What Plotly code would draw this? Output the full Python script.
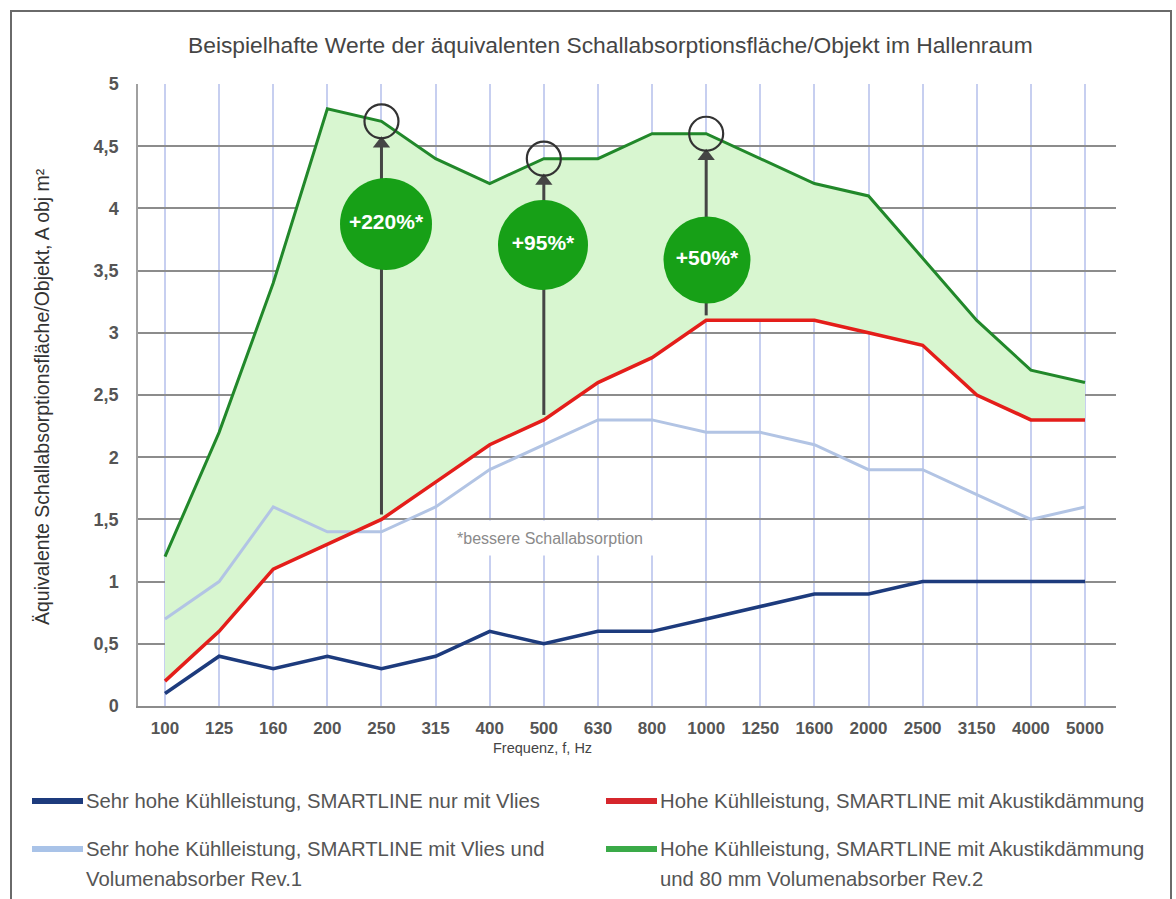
import plotly.graph_objects as go

# ---------------- data ----------------
frequencies = ["100", "125", "160", "200", "250", "315", "400", "500", "630",
               "800", "1000", "1250", "1600", "2000", "2500", "3150", "4000", "5000"]
vlies_only = [0.1, 0.4, 0.3, 0.4, 0.3, 0.4, 0.6, 0.5, 0.6, 0.6, 0.7, 0.8, 0.9, 0.9, 1.0, 1.0, 1.0, 1.0]
vlies_rev1 = [0.7, 1.0, 1.6, 1.4, 1.4, 1.6, 1.9, 2.1, 2.3, 2.3, 2.2, 2.2, 2.1, 1.9, 1.9, 1.7, 1.5, 1.6]
akustik = [0.2, 0.6, 1.1, 1.3, 1.5, 1.8, 2.1, 2.3, 2.6, 2.8, 3.1, 3.1, 3.1, 3.0, 2.9, 2.5, 2.3, 2.3]
akustik_rev2 = [1.2, 2.2, 3.4, 4.8, 4.7, 4.4, 4.2, 4.4, 4.4, 4.6, 4.6, 4.4, 4.2, 4.1, 3.6, 3.1, 2.7, 2.6]

highlight_freqs = ["250", "500", "1000"]
highlight_labels = ["+220%*", "+95%*", "+50%*"]

series_names = [
    "Sehr hohe Kühlleistung, SMARTLINE nur mit Vlies",
    "Sehr hohe Kühlleistung, SMARTLINE mit Vlies und<br>Volumenabsorber Rev.1",
    "Hohe Kühlleistung, SMARTLINE mit Akustikdämmung",
    "Hohe Kühlleistung, SMARTLINE mit Akustikdämmung<br>und 80 mm Volumenabsorber Rev.2",
]

title_text = "Beispielhafte Werte der äquivalenten Schallabsorptionsfläche/Objekt im Hallenraum"
y_title = "Äquivalente Schallabsorptionsfläche/Objekt, A obj m²"
x_title = "Frequenz, f, Hz"
note_text = "*bessere Schallabsorption"

# ---------------- layout geometry (pixels) ----------------
W, H = 1176, 899
L, R, T, B = 138, 1116, 84, 706   # plot area edges
FONT = "Liberation Sans, Arial, sans-serif"

C_DARK = "#1d3b7d"
C_LIGHT = "#b2c4e4"
C_RED = "#e41e1a"
C_GREEN = "#21882a"
C_FILL = "#d8f6d0"
C_BADGE = "#17a017"

def px(xp):
    return (xp - L) / (R - L)

def py(yp):
    return (B - yp) / (B - T)

xpos = list(range(len(frequencies)))
step = (1085 - 165) / 17.0
x_lo = -(165 - L) / step
x_hi = 17 + (R - 1085) / step

fig = go.Figure()

# fill between red and green
fig.add_trace(go.Scatter(x=xpos, y=akustik, mode="lines",
                         line=dict(width=0, color=C_FILL), showlegend=False, hoverinfo="skip"))
fig.add_trace(go.Scatter(x=xpos, y=akustik_rev2, mode="lines", fill="tonexty",
                         fillcolor=C_FILL, line=dict(width=0, color=C_FILL),
                         showlegend=False, hoverinfo="skip"))

fig.add_trace(go.Scatter(x=xpos, y=vlies_only, mode="lines", name=series_names[0],
                         line=dict(color=C_DARK, width=3.5), showlegend=False))
fig.add_trace(go.Scatter(x=xpos, y=vlies_rev1, mode="lines", name=series_names[1],
                         line=dict(color=C_LIGHT, width=3), showlegend=False))
fig.add_trace(go.Scatter(x=xpos, y=akustik, mode="lines", name=series_names[2],
                         line=dict(color=C_RED, width=3.5), showlegend=False))
fig.add_trace(go.Scatter(x=xpos, y=akustik_rev2, mode="lines", name=series_names[3],
                         line=dict(color=C_GREEN, width=3), showlegend=False))

# arrows from red curve up to green curve
idx = [frequencies.index(f) for f in highlight_freqs]
red_vals = [akustik[i] for i in idx]
green_vals = [akustik_rev2[i] for i in idx]
shaft_x, shaft_y = [], []
for i, r, g in zip(idx, red_vals, green_vals):
    shaft_x += [i, i, None]
    shaft_y += [r + 0.04, g - 0.16, None]
fig.add_trace(go.Scatter(x=shaft_x, y=shaft_y, mode="lines",
                         line=dict(color="#454545", width=3), showlegend=False, hoverinfo="skip"))
fig.add_trace(go.Scatter(x=idx, y=[g - 0.18 for g in green_vals], mode="markers",
                         marker=dict(symbol="triangle-up", size=15, color="#454545", opacity=1),
                         showlegend=False, hoverinfo="skip"))
# hollow circles on the green curve
fig.add_trace(go.Scatter(x=idx, y=green_vals, mode="markers",
                         marker=dict(symbol="circle-open", size=34, color="#333333", opacity=1,
                                     line=dict(width=2.2, color="#333333")),
                         showlegend=False, hoverinfo="skip"))

# green badges (positions in pixels -> data)
badge_px = [(386, 224, 92), (543, 245, 90), (707, 260, 87)]
badge_x = [(bx - 165) / step for bx, by, s in badge_px]
badge_y = [(B - by) / (B - T) * 5 for bx, by, s in badge_px]
fig.add_trace(go.Scatter(x=badge_x, y=badge_y, mode="markers+text",
                         text=highlight_labels, textposition="middle center",
                         textfont=dict(family=FONT, size=21, color="white", weight="bold"),
                         marker=dict(size=[s for _, _, s in badge_px], color=C_BADGE,
                                     opacity=1, line=dict(width=0)),
                         showlegend=False, hoverinfo="skip"))

annotations = []
shapes = []

# title
annotations.append(dict(text=title_text, xref="paper", yref="paper", x=px(610), y=py(45),
                        showarrow=False, xanchor="center", yanchor="middle",
                        font=dict(family=FONT, size=22.8, color="#454545")))
# y title
annotations.append(dict(text=y_title, xref="paper", yref="paper", x=px(42), y=py(397),
                        showarrow=False, textangle=-90, xanchor="center", yanchor="middle",
                        font=dict(family=FONT, size=19.5, color="#333333")))
# x title
annotations.append(dict(text=x_title, xref="paper", yref="paper", x=px(542), y=py(748),
                        showarrow=False, xanchor="center", yanchor="middle",
                        font=dict(family=FONT, size=14.5, color="#444444")))
# note with white box hiding the gridlines
annotations.append(dict(text=note_text, xref="paper", yref="paper", x=px(550), y=py(538),
                        showarrow=False, xanchor="center", yanchor="middle",
                        width=214, height=32, bgcolor="white",
                        font=dict(family=FONT, size=16, color="#8a8a8a")))

# manual legend
legend_items = [
    (series_names[0], C_DARK, 32, 801),
    (series_names[2], "#d6262c", 606, 801),
    (series_names[1], "#a9c3e8", 32, 849),
    (series_names[3], "#3aaa48", 606, 849),
]
for name, col, lx, ly in legend_items:
    shapes.append(dict(type="line", xref="paper", yref="paper",
                       x0=px(lx), x1=px(lx + 51), y0=py(ly), y1=py(ly),
                       line=dict(color=col, width=6)))
    lines = name.split("<br>")
    for k, ln in enumerate(lines):
        annotations.append(dict(text=ln, xref="paper", yref="paper",
                                x=px(lx + 52), y=py(ly + 30 * k), showarrow=False,
                                xanchor="left", yanchor="middle",
                                font=dict(family=FONT, size=20.3, color="#555555")))

# outer frame
shapes.append(dict(type="rect", xref="paper", yref="paper",
                   x0=px(11), x1=px(1171), y0=py(915), y1=py(11),
                   line=dict(color="#6a6a6a", width=2), fillcolor="rgba(0,0,0,0)"))

fig.update_layout(
    width=W, height=H,
    margin=dict(l=L, r=W - R, t=T, b=H - B),
    paper_bgcolor="white", plot_bgcolor="white",
    separators=",.",
    showlegend=False,
    annotations=annotations,
    shapes=shapes,
    font=dict(family=FONT),
    xaxis=dict(range=[x_lo, x_hi], tickmode="array", tickvals=xpos, ticktext=frequencies,
               showgrid=True, gridcolor="#c7cff0", gridwidth=1.5,
               showline=True, linecolor="#8c8c8c", linewidth=2, zeroline=False,
               ticks="", ticklabelstandoff=6,
               tickfont=dict(family=FONT, size=17, color="#555555", weight="bold")),
    yaxis=dict(range=[0, 5], dtick=0.5, tick0=0, showgrid=True, gridcolor="#8c8c8c",
               gridwidth=2, showline=True, linecolor="#a0a0a0", linewidth=1.5,
               zeroline=False, ticks="", ticklabelstandoff=14,
               tickfont=dict(family=FONT, size=18, color="#555555", weight="bold")),
)

fig.write_html("out.html", config={"displayModeBar": False},
               post_script="document.body.style.margin='0';document.body.style.overflow='hidden';")
